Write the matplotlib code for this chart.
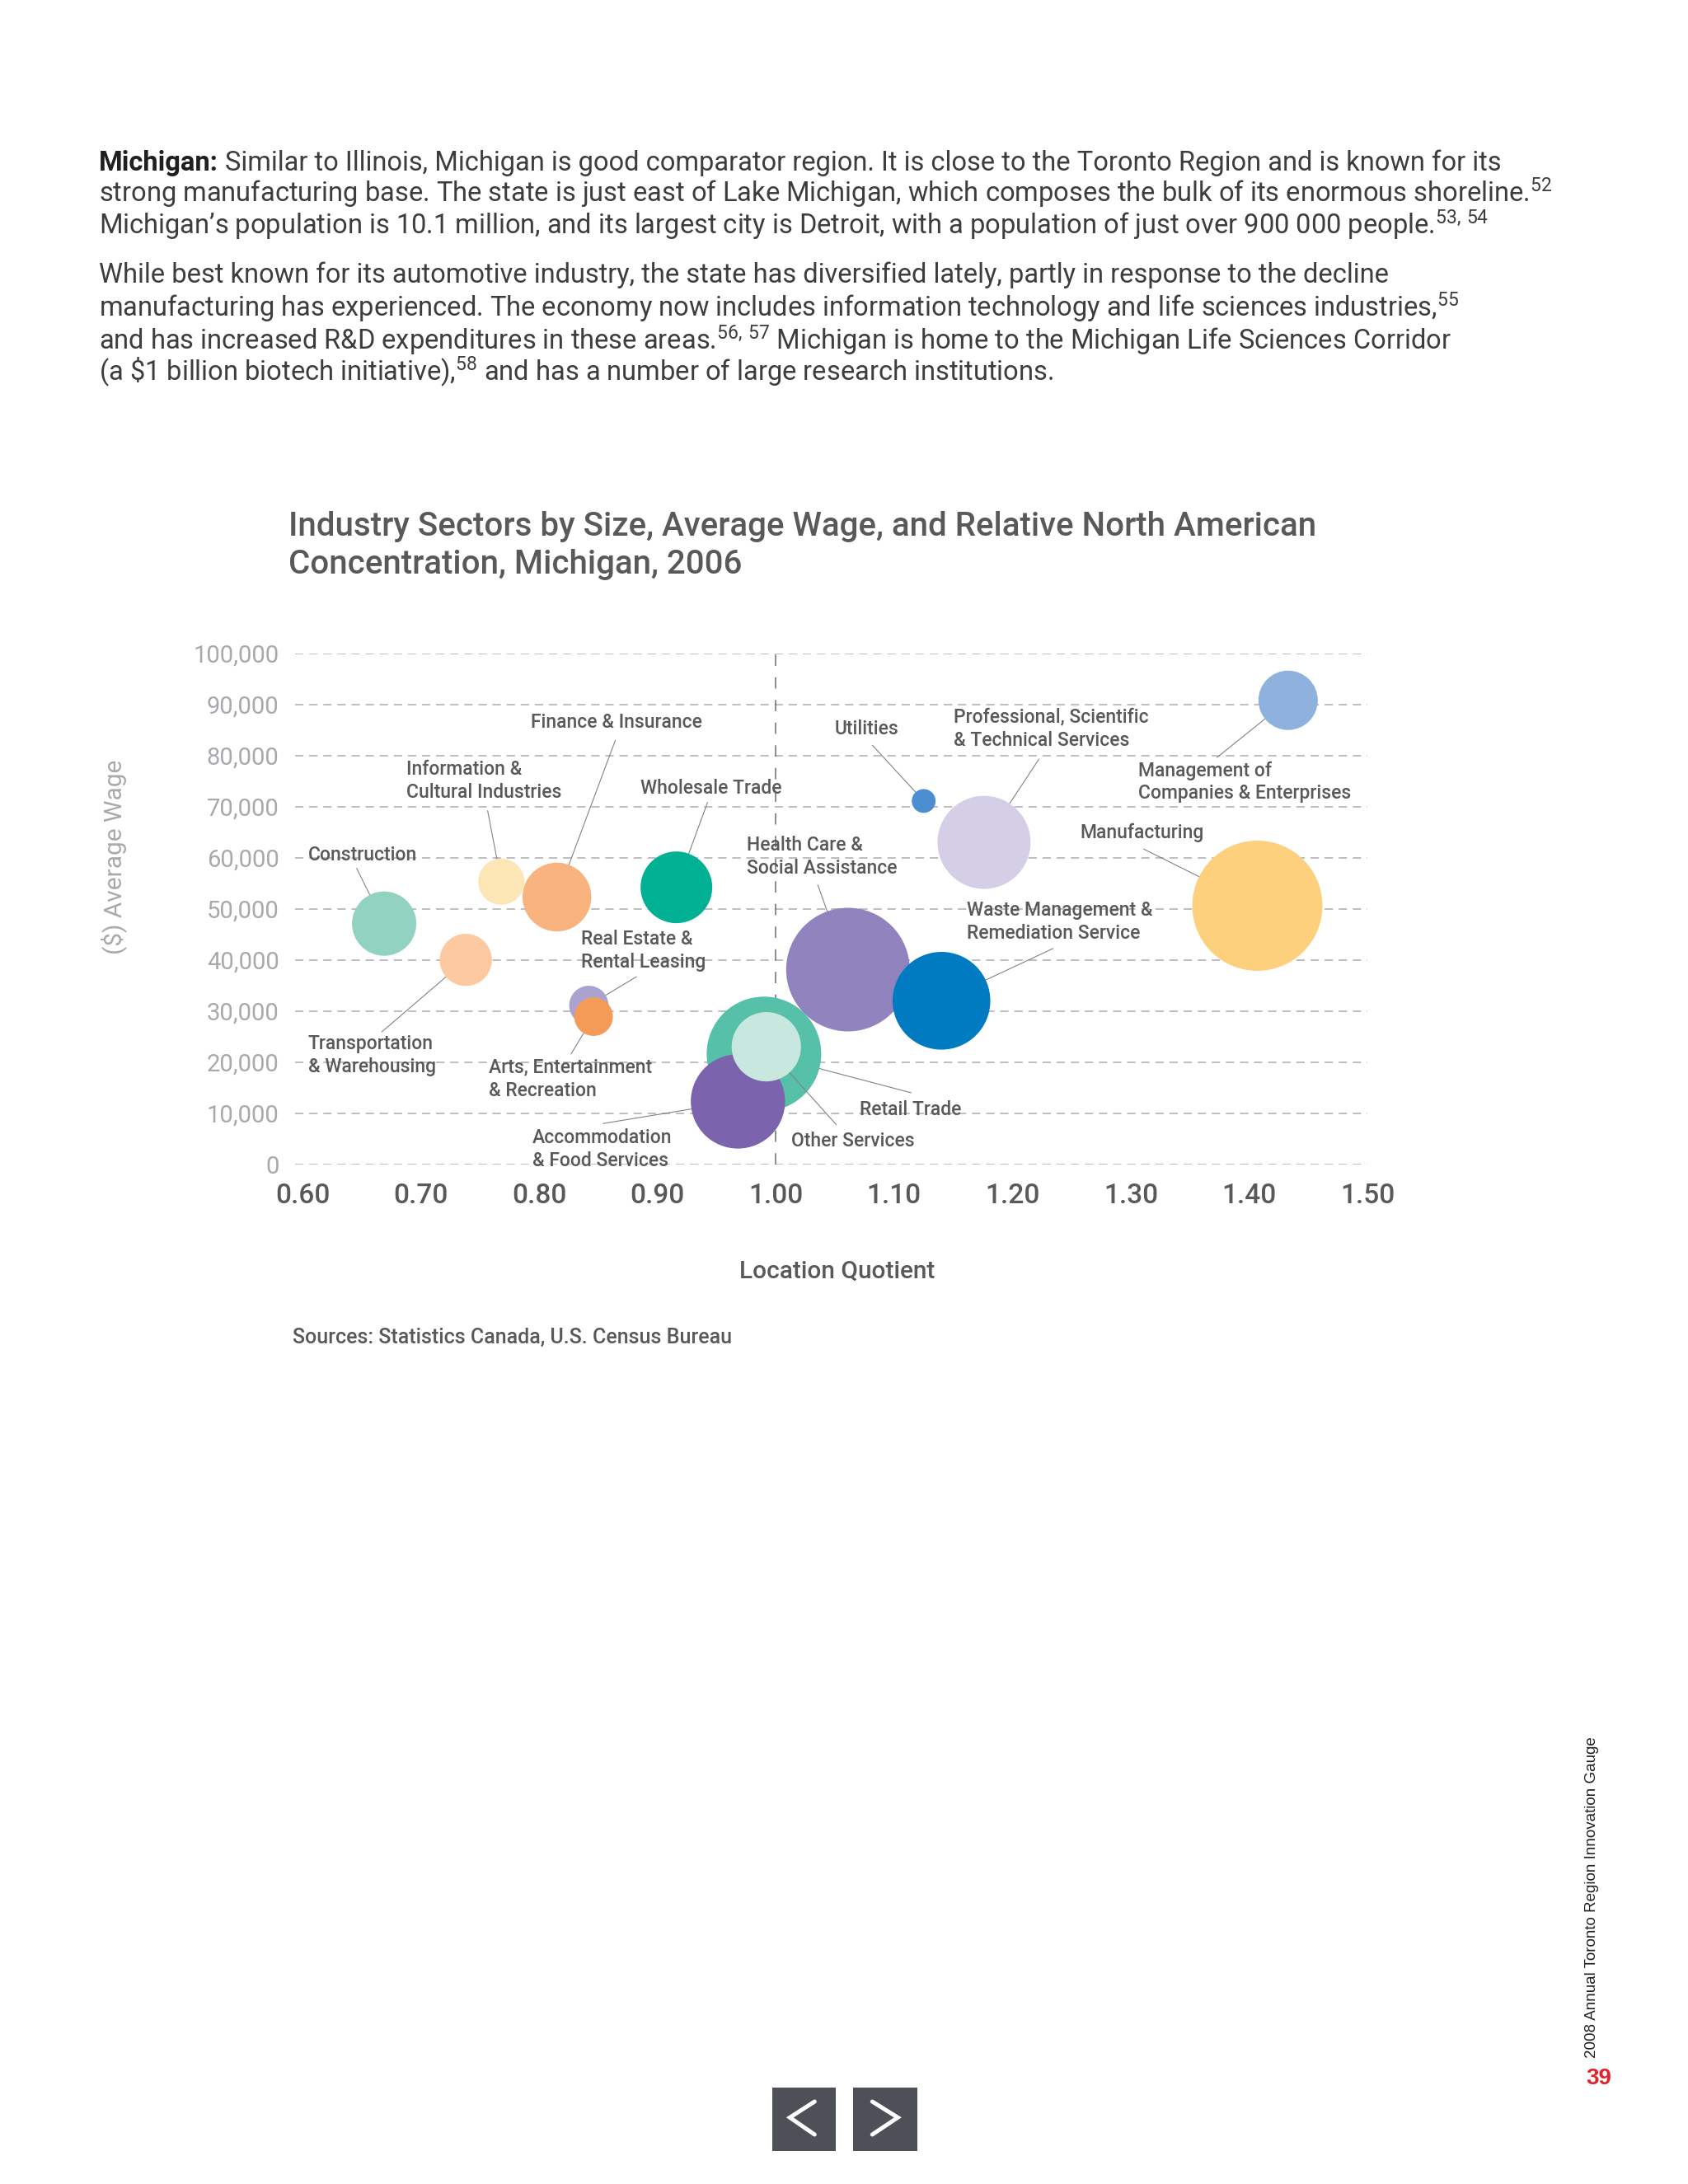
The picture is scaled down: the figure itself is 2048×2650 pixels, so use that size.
import numpy as np
import matplotlib
matplotlib.use("Agg")
import matplotlib.pyplot as plt
from matplotlib.patches import Rectangle
from matplotlib.lines import Line2D
from matplotlib.transforms import offset_copy
from matplotlib.ticker import FuncFormatter

plt.rcParams['font.family'] = ['Roboto', 'DejaVu Sans']
plt.rcParams['mathtext.fontset'] = 'custom'
plt.rcParams['mathtext.rm'] = 'Roboto'
plt.rcParams['mathtext.it'] = 'Roboto'

# --- data ------------------------------------------------------------------
SECTORS = [
    "Information & Cultural Industries",
    "Finance & Insurance",
    "Construction",
    "Transportation & Warehousing",
    "Wholesale Trade",
    "Real Estate & Rental Leasing",
    "Arts, Entertainment & Recreation",
    "Health Care & Social Assistance",
    "Retail Trade",
    "Accommodation & Food Services",
    "Other Services",
    "Waste Management & Remediation Service",
    "Professional, Scientific & Technical Services",
    "Utilities",
    "Manufacturing",
    "Management of Companies & Enterprises",
]
LQ = [0.768, 0.815, 0.669, 0.738, 0.916, 0.842, 0.846, 1.061,
      0.990, 0.968, 0.992, 1.140, 1.176, 1.125, 1.407, 1.433]
WAGE = [55300, 52300, 47100, 40000, 54200, 31100, 28900, 38100,
        21600, 12300, 23000, 32000, 63000, 71100, 50600, 90800]
JOBS = [83, 184, 161, 106, 200, 60, 58, 595,
        511, 346, 187, 372, 337, 22, 660, 137]   # thousands, from bubble area
COLORS = ['#fde6b6', '#f8b37e', '#91d2c1', '#fdc9a1', '#00b193', '#aaa3d0',
          '#f59b58', '#9183be', '#56c0a9', '#7b64ad', '#c8e8df', '#007bc2',
          '#d4cfe7', '#4b8ecf', '#fdd07e', '#8fb1dd']

X_TICKS = [0.60, 0.70, 0.80, 0.90, 1.00, 1.10, 1.20, 1.30, 1.40, 1.50]
Y_TICKS = [0, 10000, 20000, 30000, 40000, 50000, 60000, 70000, 80000, 90000, 100000]

# label layout: text lines, text left x, first line centre y, leader start x, y
LABELS = {
    "Construction": (["Construction"], 0.6045, 60500, 0.6456, 57970),
    "Transportation & Warehousing": (["Transportation", "& Warehousing"], 0.6045, 23660, 0.6668, 25870),
    "Information & Cultural Industries": (["Information &", "Cultural Industries"], 0.6877, 77210, 0.7564, 69260),
    "Finance & Insurance": (["Finance & Insurance"], 0.7928, 86560, 0.8645, 83060),
    "Real Estate & Rental Leasing": (["Real Estate &", "Rental Leasing"], 0.8355, 44100, 0.8824, 36730),
    "Arts, Entertainment & Recreation": (["Arts, Entertainment", "& Recreation"], 0.7576, 18980, 0.8268, 21520),
    "Wholesale Trade": (["Wholesale Trade"], 0.8857, 73660, 0.9424, 70870),
    "Retail Trade": (["Retail Trade"], 1.0707, 10650, 1.1146, 13980),
    "Other Services": (["Other Services"], 1.0134, 4470, 1.0514, 7690),
    "Accommodation & Food Services": (["Accommodation", "& Food Services"], 0.7944, 5270, 0.8537, 7970),
    "Health Care & Social Assistance": (["Health Care &", "Social Assistance"], 0.9756, 62530, 1.0354, 54740),
    "Waste Management & Remediation Service": (["Waste Management &", "Remediation Service"], 1.1615, 49630, 1.2346, 42260),
    "Manufacturing": (["Manufacturing"], 1.2574, 64950, 1.3107, 61730),
    "Professional, Scientific & Technical Services": (["Professional, Scientific", "& Technical Services"], 1.1505, 87530, 1.2226, 79360),
    "Utilities": (["Utilities"], 1.0495, 85270, 1.0815, 82050),
    "Management of Companies & Enterprises": (["Management of", "Companies & Enterprises"], 1.3066, 77050, 1.3727, 79580),
}

BODY = [
    "strong manufacturing base. The state is just east of Lake Michigan, which composes the bulk of its enormous shoreline.$^{52}$",
    "Michigan\u2019s population is 10.1 million, and its largest city is Detroit, with a population of just over 900 000 people.$^{53,\\,54}$",
    "While best known for its automotive industry, the state has diversified lately, partly in response to the decline",
    "manufacturing has experienced. The economy now includes information technology and life sciences industries,$^{55}$",
    "and has increased R&D expenditures in these areas.$^{56,\\,57}$ Michigan is home to the Michigan Life Sciences Corridor",
    "(a \\$1 billion biotech initiative),$^{58}$ and has a number of large research institutions.",
]
BODY_BASELINES = [245, 283.3, 343.3, 383.3, 423.3, 461.7]

W, H = 2048, 2650
DARK = '#58595b'
LIGHT = '#a7a9ac'

fig = plt.figure(figsize=(W / 100, H / 100), dpi=100)
fig.patch.set_facecolor('white')


def fx(px):
    return px / W


def fy(py):
    return 1 - py / H


# --- body text --------------------------------------------------------------
BODY_SIZE = 23.5
body_kw = dict(fontsize=BODY_SIZE, color='#3d3d3f', va='baseline', ha='left')
t0 = fig.text(fx(120), fy(206.7), "Michigan:", fontweight='bold', fontsize=BODY_SIZE,
              color='#1f1f21', va='baseline')
fig.canvas.draw()
bb = t0.get_window_extent(renderer=fig.canvas.get_renderer())
fig.text((bb.x1 + 8) / W, fy(206.7),
         "Similar to Illinois, Michigan is good comparator region. It is close to the Toronto Region and is known for its",
         **body_kw)
for line, base in zip(BODY, BODY_BASELINES):
    fig.text(fx(120), fy(base), line, **body_kw)

# --- chart title ------------------------------------------------------------
fig.text(fx(350), fy(650), "Industry Sectors by Size, Average Wage, and Relative North American",
         fontsize=29, fontweight='medium', color=DARK, va='baseline')
fig.text(fx(350), fy(696), "Concentration, Michigan, 2006",
         fontsize=29, fontweight='medium', color=DARK, va='baseline')

# --- axes -------------------------------------------------------------------
ax = fig.add_axes([fx(358), fy(1412.7), fx(1659) - fx(358), (1412.7 - 792.7) / H])
ax.set_xlim(0.5937, 1.50)
ax.set_ylim(0, 100000)
for sp in ax.spines.values():
    sp.set_visible(False)

ax.set_yticks(Y_TICKS)
ax.set_xticks(X_TICKS)
ax.yaxis.set_major_formatter(FuncFormatter(lambda v, p: f"{int(v):,}"))
ax.xaxis.set_major_formatter(FuncFormatter(lambda v, p: f"{v:.2f}"))
ax.tick_params(axis='both', length=0)
ax.tick_params(axis='y', labelsize=21, labelcolor=LIGHT, pad=14)
ax.tick_params(axis='x', labelsize=24, labelcolor=DARK, pad=16)
for lbl in ax.get_xticklabels():
    lbl.set_fontweight('medium')

ax.yaxis.grid(True, color='#bcbec0', linewidth=1.4, linestyle=(0, (5.2, 3.6)))
ax.xaxis.grid(False)
ax.set_axisbelow(True)
ax.vlines(1.0, 0, 100000, colors='#6d6e71', linewidth=1.1,
          linestyles=(0, (9, 9)), zorder=1)

ax.set_xlabel("Location Quotient", fontsize=21.5, color=DARK, fontweight='medium', va='center')
ax.xaxis.set_label_coords(0.5058, -0.210)
ax.set_ylabel("($) Average Wage", fontsize=21.5, color=LIGHT, va='center')
ax.yaxis.set_label_coords((138 - 358) / 1301, (1412.7 - 1040) / 620)

# bubbles: marker area proportional to employment
SIZE_SCALE = 19.6
sizes = [j * SIZE_SCALE for j in JOBS]
ax.scatter(LQ, WAGE, s=sizes, c=COLORS, linewidths=0, zorder=3, clip_on=False)

# labels and leader lines
lab_kw = dict(fontsize=16.5, color=DARK, fontweight='medium', ha='left', va='center', zorder=5)
for i, name in enumerate(SECTORS):
    lines, tx, ty, sx, sy = LABELS[name]
    for k, line in enumerate(lines):
        tr = offset_copy(ax.transData, fig=fig, y=-k * 28 * 0.72, units='points')
        ax.text(tx, ty, line, transform=tr, **lab_kw)
    c = ax.transData.transform((LQ[i], WAGE[i]))
    s0 = ax.transData.transform((sx, sy))
    r_px = np.sqrt(sizes[i]) / 2 * 100 / 72
    d = s0 - c
    e = c + r_px * d / np.hypot(*d)
    ex, ey = ax.transData.inverted().transform(e)
    ax.plot([sx, ex], [sy, ey], color='#808285', linewidth=0.8, zorder=4,
            solid_capstyle='butt', clip_on=False)

# --- source -----------------------------------------------------------------
fig.text(fx(355), fy(1623), "Sources: Statistics Canada, U.S. Census Bureau",
         fontsize=18, color=DARK, fontweight='medium', va='center')

# --- page furniture ---------------------------------------------------------
fig.text(fx(1932), fy(2302), "2008 Annual Toronto Region Innovation Gauge",
         rotation=90, fontsize=13.5, color='#231f20', ha='center', va='center',
         family=['Liberation Sans', 'DejaVu Sans'])
fig.text(fx(1940), fy(2522), "39", fontsize=20, color='#e2232a', fontweight='bold',
         ha='center', va='center', family=['Liberation Sans', 'DejaVu Sans'])

for x0 in (936.7, 1035):
    fig.patches.append(Rectangle((fx(x0), fy(2610)), 77.5 / W, 77.3 / H,
                                 transform=fig.transFigure, facecolor='#4d5057',
                                 edgecolor='none'))
chev_kw = dict(color='white', linewidth=3.6, solid_capstyle='round',
               solid_joinstyle='miter', transform=fig.transFigure)
fig.lines.append(Line2D([fx(988.3), fx(958.3), fx(988.3)],
                        [fy(2550), fy(2569.3), fy(2590)], **chev_kw))
fig.lines.append(Line2D([fx(1058.3), fx(1089.3), fx(1058.3)],
                        [fy(2550), fy(2569.3), fy(2590)], **chev_kw))

fig.savefig("out.png", dpi=100, facecolor='white')
